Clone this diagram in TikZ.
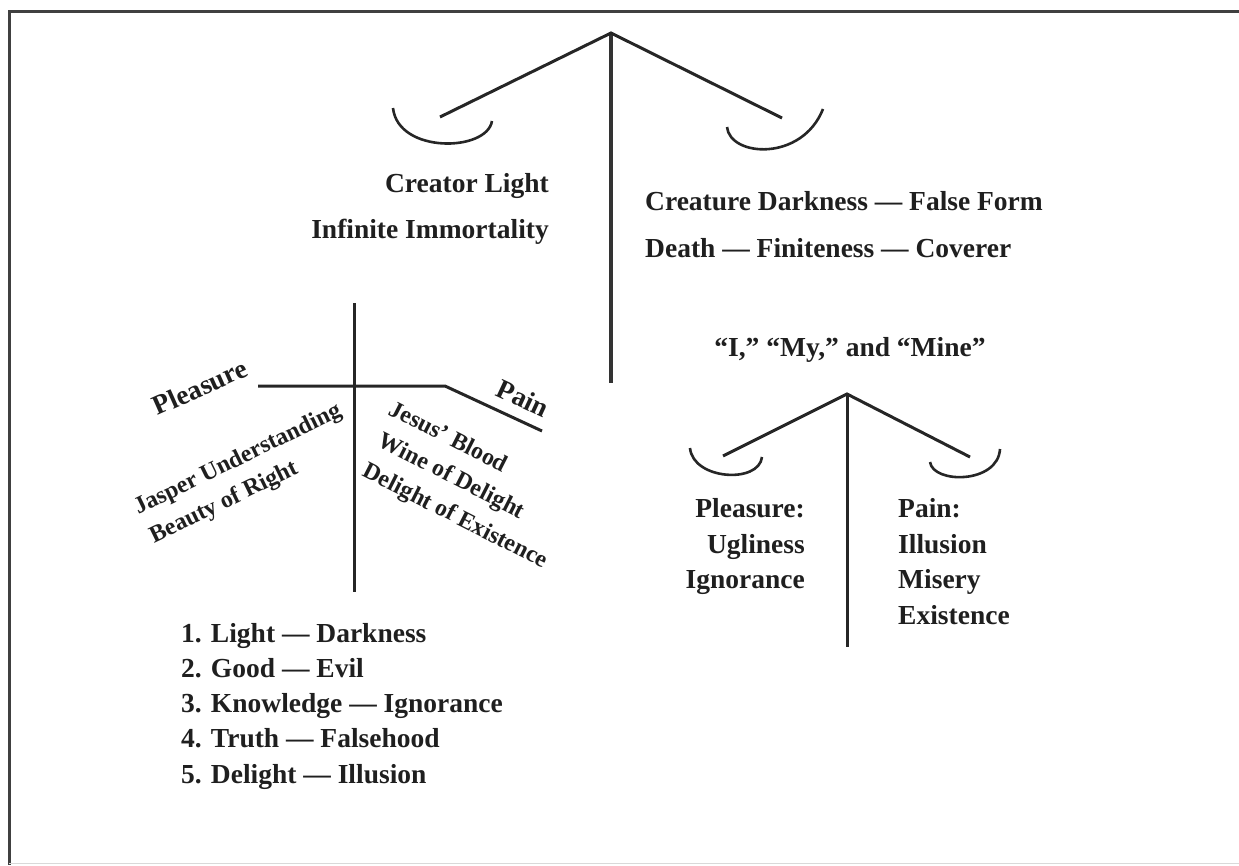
\documentclass[tikz,border=0pt]{standalone}
\usepackage{fontspec}
\setmainfont{Liberation Serif}
\begin{document}
\begin{tikzpicture}[x=1pt,y=-1pt,
  every node/.style={inner sep=0pt,text=black!88},
  big/.style={font=\bfseries\fontsize{27.5}{33}\selectfont},
  small/.style={font=\bfseries\fontsize{24}{28}\selectfont},
  bar/.style={line width=3pt,draw=black!85},
  post/.style={line width=3.6pt,draw=black!80},
  pan/.style={line width=2.6pt,draw=black!85},
  frame/.style={line width=3pt,draw=black!75}]
\useasboundingbox (0,0) rectangle (1239,865);
% frame
\coordinate (fTL) at (9,11);
\coordinate (fTR) at (1239,11);
\coordinate (fBL) at (9,865);
\draw[frame] (fTR) -- (fTL) -- (fBL);
\coordinate (gL) at (9,863);
\coordinate (gR) at (1239,863);
\draw[line width=1pt,draw=black!15] (gL) -- (gR);

% top balance
\coordinate (A) at (611,33);
\coordinate (Ab) at (611,383);
\coordinate (AL) at (440,117);
\coordinate (AR) at (782,118);
\draw[post] (A) -- (Ab);
\draw[bar] (AL) -- (A) -- (AR);
\coordinate (p1a) at (393,108);
\coordinate (p1b) at (492,121);
\draw[pan] (p1a) .. controls (398,154) and (487,152) .. (p1b);
\coordinate (p2a) at (727,127);
\coordinate (p2b) at (823,109);
\draw[pan] (p2a) .. controls (730,157) and (802,162) .. (p2b);

\node[big,anchor=base east] (creator) at (549,192) {Creator Light};
\node[big,anchor=base east] (infinite) at (549,238) {Infinite Immortality};
\node[big,anchor=base west] (creature) at (645,210) {Creature Darkness — False Form};
\node[big,anchor=base west] (death) at (645,257) {Death — Finiteness — Coverer};

% cross
\coordinate (cT) at (354,303);
\coordinate (cB) at (354,592);
\coordinate (hL) at (258,386);
\coordinate (hM) at (445,386);
\coordinate (hR) at (542,431);
\draw[bar] (cT) -- (cB);
\draw[bar] (hL) -- (hM) -- (hR);

\node[big,rotate=24] (pleasure) at (200,387) {Pleasure};
\node[big,rotate=-25] (pain) at (523,398) {Pain};
\node[small,rotate=26] (jasper) at (238,460) {Jasper Understanding};
\node[small,rotate=26] (beauty) at (224,503) {Beauty of Right};
\node[small,rotate=-27] (jesus) at (449,436) {Jesus’ Blood};
\node[small,rotate=-27] (wine) at (451,477) {Wine of Delight};
\node[small,rotate=-27] (delexist) at (455,517) {Delight of Existence};

% list
\node[big,anchor=base west] (l1) at (181,642) {1. Light — Darkness};
\node[big,anchor=base west] (l2) at (181,677) {2. Good — Evil};
\node[big,anchor=base west] (l3) at (181,712) {3. Knowledge — Ignorance};
\node[big,anchor=base west] (l4) at (181,747) {4. Truth — Falsehood};
\node[big,anchor=base west] (l5) at (181,783) {5. Delight — Illusion};

% small balance
\node[big,anchor=base] (imine) at (850,356) {“I,” “My,” and “Mine”};
\coordinate (C) at (847,394);
\coordinate (Cb) at (847,647);
\coordinate (CL) at (723,456);
\coordinate (CR) at (970,457);
\draw[bar] (C) -- (Cb);
\draw[bar] (CL) -- (C) -- (CR);
\coordinate (q1a) at (690,448);
\coordinate (q1b) at (762,457);
\draw[pan] (q1a) .. controls (693,480) and (759,484) .. (q1b);
\coordinate (q2a) at (930,462);
\coordinate (q2b) at (1000,449);
\draw[pan] (q2a) .. controls (933,484) and (998,484) .. (q2b);

\node[big,anchor=base east] (pl) at (805,517) {Pleasure:};
\node[big,anchor=base east] (ug) at (805,553) {Ugliness};
\node[big,anchor=base east] (ig) at (805,588) {Ignorance};
\node[big,anchor=base west] (pa) at (898,517) {Pain:};
\node[big,anchor=base west] (il) at (898,553) {Illusion};
\node[big,anchor=base west] (mi) at (898,588) {Misery};
\node[big,anchor=base west] (ex) at (898,624) {Existence};
\end{tikzpicture}
\end{document}
